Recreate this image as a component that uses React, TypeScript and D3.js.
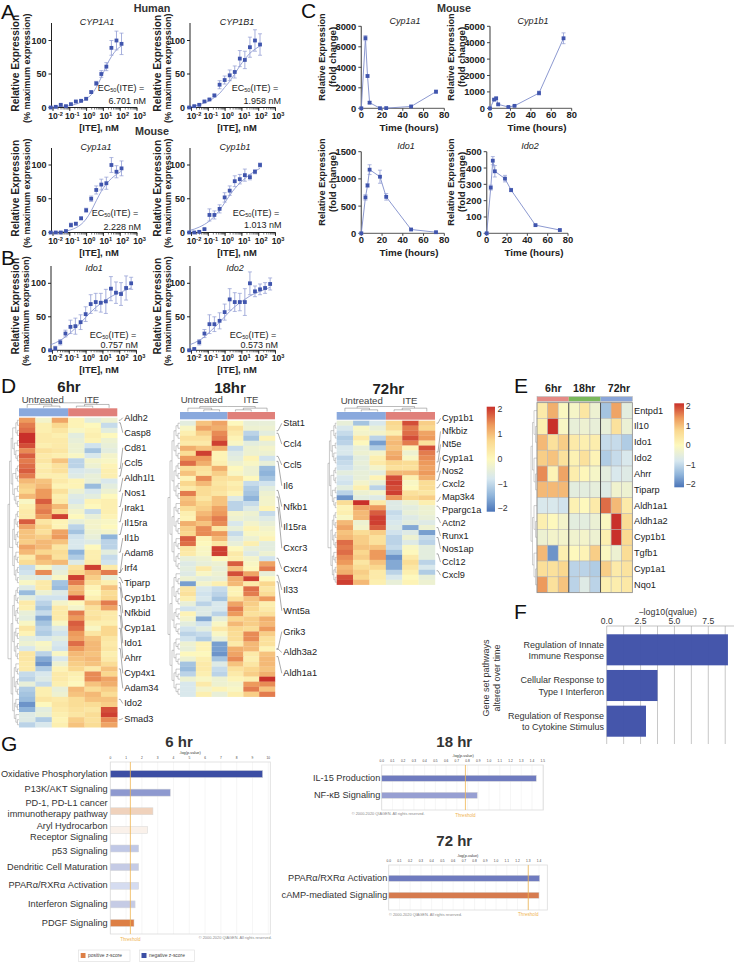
import React from "react";
import * as d3 from "d3";

const FONT = "'Liberation Sans', Arial, sans-serif";

// A, B: dose response
const doses = [0.0073, 0.0146, 0.029, 0.059, 0.117, 0.23, 0.47, 0.94, 1.88, 3.75, 7.5, 15, 30, 60, 120, 240, 480];
const cyp1a1Human = [0, 1, 4, 2, 5, 9, 10, 13, 23, 36, 50, 61, 89, 100, 95];
const cyp1a1HumanErr = [1, 1, 1, 1, 1, 1, 1, 1, 2, 3, 5, 6, 11, 14, 16];
const cyp1a1HumanFit = [0.5, 1, 1.5, 2, 3, 5, 8, 13, 19, 30, 45, 62, 76, 86, 92];
const cyp1b1Human = [0, 2, 4, 9, 12, 18, 34, 41, 48, 53, 73, 71, 90, 100, 94];
const cyp1b1HumanErr = [1, 1, 1, 1, 1, 2, 6, 6, 8, 9, 12, 13, 15, 16, 16];
const cyp1b1HumanFit = [1, 2, 4, 7, 10, 15, 21, 30, 39, 50, 62, 72, 81, 87, 92];
const cyp1a1Mouse = [0, 0, 0, 2, 11, 13, 21, 33, 50, 63, 71, 73, 100, 90, 95];
const cyp1a1MouseErr = [1, 1, 1, 2, 3, 2, 2, 3, 4, 6, 8, 9, 11, 9, 11];
const cyp1a1MouseFit = [0, 0.5, 1, 2, 4, 7, 12, 20, 32, 47, 61, 72, 80, 86, 91];
const cyp1b1Mouse = [0, 0, 1, 5, 26, 26, 35, 52, 62, 76, 79, 85, 82, 90, 100];
const cyp1b1MouseErr = [1, 1, 1, 1, 9, 6, 6, 7, 7, 8, 7, 9, 4, 3, 3];
const cyp1b1MouseFit = [3, 5, 8, 12, 17, 24, 33, 44, 55, 65, 73, 80, 86, 91, 95];
const ido1Dose = [0, 3, 12, 25, 35, 36, 42, 54, 69, 72, 71, 73, 92, 86, 84, 93, 100];
const ido1DoseErr = [1, 3, 4, 5, 10, 12, 11, 11, 14, 13, 14, 18, 18, 16, 17, 18, 9];
const ido1DoseFit = [8, 11, 15, 20, 26, 33, 41, 49, 57, 64, 70, 75, 80, 84, 87, 90, 93];
const ido2Dose = [0, 2, 12, 25, 39, 39, 44, 57, 76, 72, 72, 72, 100, 88, 91, 93, 99];
const ido2DoseErr = [0, 1, 4, 6, 14, 11, 12, 12, 16, 14, 13, 20, 17, 8, 8, 8, 9];
const ido2DoseFit = [8, 11, 15, 20, 27, 34, 42, 50, 58, 65, 71, 76, 81, 85, 88, 91, 94];

// C: time course
const hours = [0, 4, 6, 8, 18, 24, 48, 72];
const cyp1a1Time = [0, 6850, 3150, 550, 10, 20, 180, 1620];
const cyp1a1TimeErr = [0, 250, 100, 100, 0, 0, 50, 150];
const cyp1b1Time = [0, 530, 610, 240, 80, 150, 930, 4270];
const cyp1b1TimeErr = [0, 40, 60, 40, 20, 20, 120, 330];
const ido1Time = [0, 660, 880, 1170, 1040, 670, 70, 20];
const ido1TimeErr = [0, 50, 30, 90, 120, 60, 10, 10];
const ido2Time = [0, 280, 445, 380, 335, 265, 50, 20];
const ido2TimeErr = [0, 15, 25, 35, 20, 10, 5, 5];

// D: heatmaps, columns are 3 untreated then 3 ITE
const heat6 = [
  [1.3, -0.2, 1.2, 0.1, -0.5, -0.3], [1.5, 0.2, 0.7, 0.1, 0, -0.9], [1.6, 0.2, 0.4, -0.1, 0.1, -0.5], [2, 0.3, 0.2, -0.5, 0.2, 0],
  [2, 0.3, 0.3, -0.4, 0.1, -0.3], [1.8, 0.2, 0.3, -0.3, -0.8, -0.4], [1.4, 0.5, 0.4, -0.3, -1.2, -0.5], [1.7, 0.3, 0.2, -0.1, -0.7, -0.2],
  [1.5, 0.4, 0.9, -1, -0.2, -0.1], [1.6, 0.2, 0.5, -1, -0.3, 0.1], [1.7, 0.3, 0.5, -0.7, -0.6, 0.2], [1.5, 0.2, 0.2, -0.6, -0.4, 0.2],
  [1, 0.9, 0.3, 0.1, -0.4, -0.7], [0.8, 1, 0.1, 0.1, -1.3, -0.5], [0.7, 1.3, 0.5, -0.3, -0.7, -0.3], [1, 1.3, 0.2, -0.6, -0.5, 0],
  [-0.1, 1.7, 0.3, -0.7, 0.1, 0.2], [0.2, 1.4, 1, -0.4, 0, 0.2], [0.3, 1.5, 0.7, -0.2, -0.9, 0.2], [0.3, 1.3, 1.9, 0, -0.4, 0.1],
  [1.7, 0.4, 0.1, -0.4, -0.2, -0.1], [1.2, 0.7, 0.1, -1, -0.2, 0], [0.9, 0.5, 1.2, -1.2, -0.3, -0.2], [0.9, 0.8, 1.3, -0.8, -0.4, -1.4],
  [0.8, 1, 0.9, -0.7, -0.6, -1], [1.2, 1, 0.4, -0.7, 0, -1], [1, 0.7, 0.6, -1.4, 0.2, -0.5], [0.3, 1.1, 0.5, -1.1, 0.2, -0.9],
  [0.6, 0.9, 1, -0.6, 0.3, -0.8], [-0.9, -0.1, -0.6, 0.5, 1.9, 0.3], [-0.8, 1.4, -0.4, 0.7, 1, 1.5],
  [-0.5, -0.6, -0.1, 1.9, 0.8, -0.4], [-0.1, 0.3, -1.2, 1.5, 0.5, 0.2], [-0.6, 0.3, -1.3, 1, 0.1, 0.9], [-1.3, -0.3, -0.6, 1.1, 0, 0.6],
  [-0.5, -0.8, -0.8, 1.9, 0.2, 0.7], [0.3, -1, -0.2, 0, 0.9, 1.5], [0.2, -1.2, 0.3, -0.2, 0.5, 1.2], [-0.4, -0.9, 0.3, 1.5, 0.4, 0.3],
  [-0.5, -1.5, 0.3, 1.3, 0.5, 0.3], [-0.1, -1.2, -0.1, 1.7, 0.2, 0.2], [0.4, -1, -0.6, 1.6, -0.1, 0.7], [0.1, -1.1, -0.8, 1.3, 0.4, 0.7],
  [-0.5, -0.7, -0.5, 1.2, 0.9, 0.4], [-0.3, -0.1, -0.7, 1.6, 1, 0.3], [-0.7, -0.2, -0.8, 1.3, 1, 0.4], [0.4, -1, -0.1, 1, 0.9, 0.2],
  [0.4, -1.5, -0.7, 0.9, 1, 0.3], [0.3, -1.7, -0.3, 0.8, 0.9, 0.6], [0.3, -1.1, 0.1, 0.7, 0.3, 0.9], [-0.9, -0.7, 0.3, 0.2, 1.4, 0.7],
  [-1, -0.6, 0.3, 0.1, 1.4, 1.2], [-0.4, -0.9, 0.2, 0, 0.9, 1.1], [-1.1, 0.2, -0.4, 1, 0.6, 0.8], [-1.2, 0.2, -0.3, 0.9, 1, 0.6],
  [-1.3, 0.4, 0.3, 0.6, 0.9, 0.9], [-1.7, 0, 0.4, 0.6, 0.6, 0.8], [-1.4, -0.5, 0.3, 0.5, 0.4, 1.8], [-0.6, -0.4, 0.2, 0.4, 0.6, 1.9],
  [-0.6, -1.1, 0.1, 0.8, 0.5, 1.4], [-1, -0.7, 0.2, 0.9, 0.6, 1.2],
];
const heat18 = [
  [-0.5, 0.9, 1.2, 0, -0.4, -0.4], [-0.1, 1.2, 1.1, 0.5, -0.3, -0.3], [0.2, 0.8, 1.4, 0.3, -1, -0.5], [0.5, 0.5, 1.5, 0.1, -1.2, 0.1],
  [0.3, 0.3, 1.9, -0.1, -0.5, -0.4], [1.1, 0.9, 1.1, -0.9, -0.3, -0.2], [0.6, 1.9, 0.1, -0.6, -0.3, -0.3], [1.3, 1.3, 0.1, -0.5, 0.1, -0.8],
  [1.6, 1.1, 0.2, -0.3, -0.1, -0.4], [0.6, 0.5, 1.1, 0, -0.3, -1.3], [0.9, 0.4, 0.8, -0.1, -0.3, -1.4], [0.1, 1.4, 0.5, 0.5, 0, -1.2],
  [0.7, 1, 0.4, 0.2, -0.9, -0.8], [0.3, 0.6, 0.5, 0.3, -1.1, -0.5], [1.5, 0.6, 0.4, 0.1, -1.2, -0.3], [0.9, 0.4, 0.9, -0.6, -1.4, -0.2],
  [1, 0.7, 0.9, -1, -0.9, -0.2], [0.6, 0.8, 1.2, -1, -0.6, 0.1], [0.2, 1, 1.3, -0.2, -0.3, -0.9], [0.1, 1.2, 1.5, -0.3, -0.4, -0.6],
  [1.1, 0.9, 1.4, -0.7, -0.2, -0.4], [0.8, 1.4, 0.4, -0.4, 0.1, -0.2], [0.7, 1.4, 1.3, -0.9, -0.1, -0.1], [1.7, 0.1, 1, -0.6, -0.3, 0.1],
  [1.6, 0, 0.4, -0.4, 0.2, -0.5], [0.4, -0.1, 1.9, 0, -0.4, -0.5], [0.3, -0.1, 1.9, 0.3, -0.6, -0.3], [-0.4, -0.3, 0, 0.2, -0.2, -0.8],
  [-0.6, -0.4, -0.3, 1.7, -0.1, 1.2], [-0.5, 0.3, -0.4, 0.9, 0, 1.5],
  [-0.6, -0.1, -0.3, 1.8, 1.2, -0.4], [-0.3, -0.5, -0.4, 1.1, 1.9, 0], [-1.6, -0.2, 0.2, 1, 0.3, 0.7], [0.4, -0.7, -0.9, 0.1, 1.6, 0.4],
  [0.5, -0.8, -1, 0.1, 1.5, 0.6], [0.2, -0.7, -1.2, 0.5, 0.9, 1.3], [-0.4, -1, -0.7, 1.2, 0.8, 0.2], [-0.8, -0.6, -0.7, 1.5, 0.7, 0.3],
  [0.1, -0.6, -1, 1.3, 0.5, 0.5], [-0.2, -1.5, -0.4, 0.7, 0.8, 1.1], [-0.5, -0.8, -0.1, 1, 0.8, 1], [-0.8, -0.5, 0.3, 0.7, 0.6, 1.3],
  [-1, -0.9, -0.1, 0.6, 1.4, 0.8], [-0.8, -1.1, -0.4, 0.6, 1.4, 0.5], [-0.3, 0.1, -1.6, 0.3, 1, 0.5], [-0.4, 0.1, -1.6, 1.1, 1, 0.1],
  [0, 0, -1.7, 1.2, 0.3, 0.9], [-0.3, 0.2, -1.2, 1.4, 0.2, 1], [-1.2, 0.3, -0.6, 0.9, 0.4, 1], [-1.3, 0.3, -0.9, 0.5, 0.7, 0.9],
  [-1, 0.2, -1, 0.3, 0.8, 1.1], [-0.3, -0.1, -0.3, 0.1, 0.2, 2], [-0.7, 0.3, -0.3, -0.2, 1.3, 1.4], [-0.7, -0.2, 0.1, -0.1, 1.5, 0.9],
  [-0.7, 0.2, -0.4, 0.2, 0.8, 1.5],
];
const heat72 = [
  [-0.4, -1.2, -0.7, 0.7, 1.8, 0.8], [-0.7, -0.1, -0.4, 0.6, 1.5, 0.7], [-0.9, -0.2, -0.2, 0.2, 1.6, 1.2], [-1.1, 0.3, -1, 0.9, 1.8, 1.3],
  [-1, 0, -1.6, 1, 1.5, 0.5], [-0.7, -0.4, -1.1, 0.9, 0.1, 1.8], [-0.7, -0.3, -0.2, 1.1, -0.3, 1.5], [-1, -0.5, 0.2, 1.2, -0.1, 1.4],
  [-0.9, -0.4, 0.3, 0.7, 0.6, 1.3], [-0.8, -0.5, -0.2, 0.5, 0.5, 1.2], [-0.5, -0.4, -0.5, 1, 1, 1.3], [-0.7, -0.4, 0.1, 1.8, 0.2, 1.1],
  [-0.8, -0.2, -0.4, 1.9, -0.1, 0.6], [-0.5, 0.2, -1, 1.8, 0, 0.6], [-1, -0.3, -0.2, 1.9, 0.5, 0.4], [-1.7, -0.5, -0.6, 1.3, 0.7, 0.8],
  [0.6, 2, 0.3, -0.6, -0.3, 0.2], [0.1, 1.2, 1.3, -0.6, -0.5, -0.3], [0.2, 1, 1.7, -0.9, -0.4, -0.3], [-0.1, 1, 1.9, -0.8, -0.6, -0.4],
  [1, -0.3, 1.9, -0.7, -0.5, -0.6], [1.2, -0.2, 1.7, -0.6, -1.5, -0.3], [0.9, 0.6, 0.8, -0.8, -0.6, -1.6], [1, 0.8, 0.5, -1, -0.3, -0.9],
  [1.6, 0.8, 0.5, -1, -0.6, -1], [1.5, 0.9, 0.9, -0.9, -0.1, -0.5], [1.6, 0.7, 1.3, -1.2, 0, -0.5], [1.4, 0.8, 1.3, -1.7, 0.3, -0.5],
  [1.3, 0.4, 0.9, -1.5, 0.6, -1], [1, 0.6, 0.7, -1.5, 0.4, -0.7], [1.1, 0.8, 0.3, -1, 0.2, -1.1], [1.8, 0.7, 0.3, -0.7, 0, -0.4],
  [1.9, 1, 0.2, -0.4, 0.1, -0.3],
];
const genes6 = ["Aldh2", "Casp8", "Cd81", "Ccl5", "Aldh1l1", "Nos1", "Irak1", "Il15ra", "Il1b", "Adam8", "Irf4", "Tiparp", "Cyp1b1", "Nfkbid", "Cyp1a1", "Ido1", "Ahrr", "Cyp4x1", "Adam34", "Ido2", "Smad3"];
const geneRows6 = [0, 0.5, 9.5, 11, 14, 17, 20, 22.5, 26, 30, 30, 31, 32, 33, 36.5, 38.5, 41, 45, 49, 55, 59];
const genes18 = ["Stat1", "Ccl4", "Ccl5", "Il6", "Nfkb1", "Il15ra", "Cxcr3", "Cxcr4", "Il33", "Wnt5a", "Grik3", "Aldh3a2", "Aldh1a1"];
const geneRows18 = [1.5, 2, 6.6, 7.6, 13.4, 14.7, 16.8, 26.9, 30.3, 31.6, 45, 45, 46.5];
const genes72 = ["Cyp1b1", "Nfkbiz", "Nt5e", "Cyp1a1", "Nos2", "Cxcl2", "Map3k4", "Ppargc1a", "Actn2", "Runx1", "Nos1ap", "Ccl12", "Cxcl9"];
const geneRows72 = [0, 5.8, 7.8, 9.8, 11.5, 13, 15.7, 16.7, 19, 21, 23, 26.3, 29.7];

// E
const genesE = ["Entpd1", "Il10", "Ido1", "Ido2", "Ahrr", "Tiparp", "Aldh1a1", "Aldh1a2", "Cyp1b1", "Tgfb1", "Cyp1a1", "Nqo1"];
const heatE = [
  [0.3, 1.1, -0.05, -0.15, 0.4, -0.3, -1.2, 1.2, -0.5],
  [0.2, 2, -0.1, -0.4, -0.3, -0.4, -0.4, 0.5, -0.35],
  [1, 0.5, 0.8, 0.3, 0.2, 0.25, -0.9, -0.9, -1.1],
  [0.8, 0.9, 0.5, 0.15, 0.5, 0.1, -1.1, -0.9, -0.7],
  [1.4, 0.1, 1.2, 0.25, 0.05, -0.15, -0.5, -0.7, -0.6],
  [1, 1, 1, -0.5, -0.5, -0.45, -0.6, -0.25, -0.3],
  [-0.7, -0.7, -0.8, 0.15, 0, 0.3, 1.6, 1, 0.3],
  [0.2, 0, -0.2, -0.5, -0.5, -0.35, -0.05, 2, 0.6],
  [-0.3, -0.2, -0.2, -0.25, -0.2, -0.3, 0.2, 2, 0.65],
  [1, -1.7, 0.2, 0, 0.1, 0.8, -0.05, -0.3, 0.6],
  [0.55, 0.5, 0.7, -1, -1, -1.1, 0.8, 0.3, 0.45],
  [1.3, 0.5, 0.9, -1, -0.6, -1, 0.2, 0.25, 0.35],
];

// F
const pathwaysF = [["Regulation of Innate", "Immune Response"], ["Cellular Response to", "Type I Interferon"], ["Regulation of Response", "to Cytokine Stimulus"]];
const qvalues = [8.95, 3.75, 2.9];

// G
const names6 = [["Oxidative Phosphorylation"], ["P13K/AKT Signaling"], ["PD-1, PD-L1 cancer", "immunotherapy pathway"], ["Aryl Hydrocarbon", "Receptor Signaling"], ["p53 Signaling"], ["Dendritic Cell Maturation"], ["PPARα/RXRα Activation"], ["Interferon Signaling"], ["PDGF Signaling"]];
const values6 = [9.64, 3.8, 2.7, 2.37, 1.8, 1.8, 1.8, 1.57, 1.5];
const fills6 = ["#3c4ea4", "#8e99cf", "#f0d2bc", "#faf1ea", "#c0c8e6", "#c5cbe5", "#d5dcf0", "#c5cbe5", "#dd7f45"];
const nudges6 = [-0.5, -3.7, -2.6, 2, 2, 0, -0.5, -0.5, -0.5];
const names18 = [["IL-15 Production"], ["NF-κB Signaling"]];
const values18 = [1.44, 0.89];
const fills18 = ["#6f7bbf", "#979fd2"];
const names72 = [["PPARα/RXRα Activation"], ["cAMP-mediated Signaling"]];
const values72 = [1.406, 1.4];
const fills72 = ["#6f7bbf", "#d67b4f"];

const colorDomain = [-2, -1.4, -0.75, 0, 0.7, 1.3, 2];
const colorRange = ["#4a74b8", "#8fb4da", "#d6e7ef", "#fdf8bd", "#fad88f", "#ed9a5c", "#c9302a"];
const heatColor = d3.scaleLinear<string>().domain(colorDomain).range(colorRange).clamp(true);

const MARK = "#4055ad";
const LINE = "#7f8dcb";
const ERR = "#8f9bd3";

type DoseProps = {
  x0: number; base: number; y100: number; top: number; title: string; titleX: number; titleY: number;
  values: number[]; err: number[]; fit: number[]; ec: string; ecX: number; ecY: number; nmRight: number; nmY: number; xLabelX: number; labelDx?: number;
};

const DoseChart = ({ x0, base, y100, top, title, titleX, titleY, values, err, fit, ec, ecX, ecY, nmRight, nmY, xLabelX, labelDx = 0 }: DoseProps) => {
  const x = d3.scaleLog().domain([0.01, 1000]).range([x0 + 1.5, x0 + 85.5]);
  const y = d3.scaleLinear().domain([0, 100]).range([base, y100]);
  const xd = doses.slice(0, values.length);
  const line = d3.line<number>().x((_, i) => x(xd[i])).y((d) => y(d)).curve(d3.curveMonotoneX);
  const mid = (top + base) / 2 - 2;
  return (
    <g fontFamily={FONT}>
      <text transform={`translate(${x0 - 36 + labelDx},${mid}) rotate(-90)`} textAnchor="middle" fontSize={10.2} fontWeight="bold" fill="#222" dominantBaseline="central">Relative Expression</text>
      <text transform={`translate(${x0 - 25 + labelDx},${mid + 5}) rotate(-90)`} textAnchor="middle" fontSize={9.1} fontWeight="bold" fill="#222" dominantBaseline="central">(% maximum expression)</text>
      <line x1={x0} x2={x0} y1={top} y2={base + 0.5} stroke="#222" strokeWidth={1} />
      <line x1={x0} x2={x(1000)} y1={base} y2={base} stroke="#222" strokeWidth={1} />
      {[0, 50, 100].map((t) => (
        <g key={t}>
          <line x1={x0 - 3} x2={x0} y1={y(t)} y2={y(t)} stroke="#222" />
          <text x={x0 - 5} y={y(t)} textAnchor="end" dominantBaseline="central" fontSize={9} fontWeight="bold" fill="#222">{t}</text>
        </g>
      ))}
      {x.ticks().map((t) => (
        <line key={t} x1={x(t)} x2={x(t)} y1={base} y2={base + 2} stroke="#222" strokeWidth={0.6} />
      ))}
      {[-2, -1, 0, 1, 2, 3].map((p) => (
        <g key={p}>
          <line x1={x(10 ** p)} x2={x(10 ** p)} y1={base} y2={base + 3.5} stroke="#222" strokeWidth={0.9} />
          <text x={x(10 ** p) + 2.5} y={base + 11} textAnchor="middle" fontSize={8.6} fontWeight="bold" fill="#222">
            10<tspan dy={-3} fontSize={5.6}>{p}</tspan>
          </text>
        </g>
      ))}
      <text x={xLabelX} y={base + 23} textAnchor="middle" fontSize={9.4} fontWeight="bold" fill="#222">[ITE], nM</text>
      <text x={titleX} y={titleY} textAnchor="middle" dominantBaseline="central" fontSize={9} fontStyle="italic" fill="#222">{title}</text>
      <path d={line(fit) ?? ""} fill="none" stroke={LINE} strokeWidth={0.8} />
      {values.map((v, i) => (
        <g key={i}>
          <line x1={x(xd[i])} x2={x(xd[i])} y1={y(v - err[i])} y2={y(v + err[i])} stroke={ERR} strokeWidth={0.8} />
          <line x1={x(xd[i]) - 2} x2={x(xd[i]) + 2} y1={y(v + err[i])} y2={y(v + err[i])} stroke={ERR} strokeWidth={0.7} />
          <line x1={x(xd[i]) - 2} x2={x(xd[i]) + 2} y1={y(v - err[i])} y2={y(v - err[i])} stroke={ERR} strokeWidth={0.7} />
          <rect x={x(xd[i]) - 1.9} y={y(v) - 1.9} width={3.8} height={3.8} fill={MARK} />
        </g>
      ))}
      <text x={ecX} y={ecY} textAnchor="middle" dominantBaseline="central" fontSize={9} fill="#222">
        EC<tspan dy={2} fontSize={5.5}>50</tspan><tspan dy={-2}>(ITE) =</tspan>
      </text>
      <text x={nmRight} y={nmY} textAnchor="end" dominantBaseline="central" fontSize={9} fill="#222">{ec}</text>
    </g>
  );
};

type TimeProps = {
  x0: number; x80: number; base: number; yTop: number; max: number; step: number; title: string; titleX: number; titleY: number;
  values: number[]; err: number[]; labelX: number; labelY: number; xLabelX: number;
};

const TimeChart = ({ x0, x80, base, yTop, max, step, title, titleX, titleY, values, err, labelX, labelY, xLabelX }: TimeProps) => {
  const x = d3.scaleLinear().domain([0, 80]).range([x0, x80]);
  const y = d3.scaleLinear().domain([0, max]).range([base, yTop]);
  const line = d3.line<number>().x((_, i) => x(hours[i])).y((d) => y(d));
  return (
    <g fontFamily={FONT}>
      <text transform={`translate(${labelX},${labelY}) rotate(-90)`} textAnchor="middle" dominantBaseline="central" fontSize={9.2} fontWeight="bold" fill="#222">Relative Expression</text>
      <text transform={`translate(${labelX + 10.3},${labelY}) rotate(-90)`} textAnchor="middle" dominantBaseline="central" fontSize={9.6} fontWeight="bold" fill="#222">(fold change)</text>
      <line x1={x0} x2={x0} y1={yTop} y2={base} stroke="#666" strokeWidth={1.3} />
      <line x1={x0} x2={x80} y1={base} y2={base} stroke="#444" strokeWidth={0.9} />
      {d3.range(0, max + 1, step).map((t) => (
        <g key={t}>
          <line x1={x0 - 3} x2={x0} y1={y(t)} y2={y(t)} stroke="#444" />
          <text x={x0 - 5} y={y(t)} textAnchor="end" dominantBaseline="central" fontSize={9.4} fontWeight="bold" fill="#222">{t}</text>
        </g>
      ))}
      {x.ticks(4).map((t) => (
        <g key={t}>
          <line x1={x(t)} x2={x(t)} y1={base} y2={base + 2.5} stroke="#444" />
          <text x={x(t)} y={base + 10} textAnchor="middle" fontSize={9.4} fontWeight="bold" fill="#222">{t}</text>
        </g>
      ))}
      <text x={xLabelX} y={base + 19.5} dominantBaseline="central" textAnchor="middle" fontSize={9.8} fontWeight="bold" fill="#222">Time (hours)</text>
      <text x={titleX} y={titleY} textAnchor="middle" dominantBaseline="central" fontSize={9} fontStyle="italic" fill="#222">{title}</text>
      <path d={line(values) ?? ""} fill="none" stroke={LINE} strokeWidth={0.9} />
      {values.map((v, i) => (
        <g key={i}>
          <line x1={x(hours[i])} x2={x(hours[i])} y1={y(v - err[i])} y2={y(v + err[i])} stroke={ERR} strokeWidth={0.8} />
          <line x1={x(hours[i]) - 2} x2={x(hours[i]) + 2} y1={y(v + err[i])} y2={y(v + err[i])} stroke={ERR} strokeWidth={0.7} />
          <line x1={x(hours[i]) - 2} x2={x(hours[i]) + 2} y1={y(v - err[i])} y2={y(v - err[i])} stroke={ERR} strokeWidth={0.7} />
          <rect x={x(hours[i]) - 1.9} y={y(v) - 1.9} width={3.8} height={3.8} fill={MARK} />
        </g>
      ))}
    </g>
  );
};

type Tree = { children?: Tree[] };
// halves the rows into nested groups so d3.cluster can lay out the row dendrogram
const splitRows = (n: number): Tree => (n <= 1 ? {} : { children: [splitRows(Math.floor(n * 0.55)), splitRows(n - Math.floor(n * 0.55))] });
const topTree: Tree = {
  children: [
    { children: [{}, { children: [{}, {}] }] },
    { children: [{ children: [{}, {}] }, {}] },
  ],
};

const Dendrogram = ({ tree, length, span, flip, tx, ty, stroke }: { tree: Tree; length: number; span: number; flip?: boolean; tx: number; ty: number; stroke: string }) => {
  const root = d3.cluster<Tree>().size([span, length]).separation(() => 1)(d3.hierarchy(tree));
  const d = root.links().map(({ source, target }) =>
    flip
      ? `M${source.x},${source.y}H${target.x}V${target.y}`
      : `M${source.y},${source.x}V${target.x}H${target.y}`
  ).join("");
  return <path transform={`translate(${tx},${ty})`} d={d} fill="none" stroke={stroke} strokeWidth={0.45} />;
};

type HeatProps = {
  rows: number[][]; left: number; right: number; barTop: number; barBottom: number; top: number; bottom: number; title: string; titleX: number; titleY: number;
  untreatedX: number; iteX: number; groupY: number; genes: string[]; geneRows: number[]; labelX: number; labelTop: number; labelStep: number; dendroLeft: number;
};

const RowHeatmap = ({ rows, left, right, barTop, barBottom, top, bottom, title, titleX, titleY, untreatedX, iteX, groupY, genes, geneRows, labelX, labelTop, labelStep, dendroLeft }: HeatProps) => {
  const x = d3.scaleBand<number>().domain(d3.range(6)).range([left, right]);
  const y = d3.scaleBand<number>().domain(d3.range(rows.length)).range([top, bottom]);
  const mid = x(3) as number;
  return (
    <g fontFamily={FONT}>
      <text x={titleX} y={titleY} textAnchor="middle" dominantBaseline="central" fontSize={15} fontWeight="bold" fill="#222">{title}</text>
      <text x={untreatedX} y={groupY} textAnchor="middle" dominantBaseline="central" fontSize={9.6} fill="#444">Untreated</text>
      <text x={iteX} y={groupY} textAnchor="middle" dominantBaseline="central" fontSize={9.6} fill="#444">ITE</text>
      <Dendrogram tree={topTree} length={5} span={right - left} flip tx={left} ty={barTop - 5.5} stroke="#666" />
      <rect x={left} y={barTop} width={mid - left} height={barBottom - barTop} fill="#8aa9dd" />
      <rect x={mid} y={barTop} width={right - mid} height={barBottom - barTop} fill="#e0807a" />
      <Dendrogram tree={splitRows(rows.length)} length={left - dendroLeft} span={bottom - top} tx={dendroLeft} ty={top} stroke="#8a8a8a" />
      {rows.map((row, r) => row.map((v, c) => (
        <rect key={`${r}-${c}`} x={x(c)} y={y(r)} width={x.bandwidth() + 0.2} height={y.bandwidth() + 0.2} fill={heatColor(v)} />
      )))}
      {genes.map((g, i) => {
        const ly = labelTop + i * labelStep;
        const ty = (y(0) as number) + (geneRows[i] + 0.5) * y.step();
        return (
          <g key={g}>
            <path d={`M${right + 1.5},${ty}L${right + 3},${ty}L${labelX - 1.5},${ly}`} fill="none" stroke="#555" strokeWidth={0.5} />
            <text x={labelX} y={ly} dominantBaseline="central" fontSize={9.2} fill="#222">{g}</text>
          </g>
        );
      })}
    </g>
  );
};

const ColorBar = ({ id, x, width, y2, ym2, top, bottom, labelX }: { id: string; x: number; width: number; y2: number; ym2: number; top: number; bottom: number; labelX: number }) => {
  const y = d3.scaleLinear().domain([-2, 2]).range([ym2, y2]);
  return (
    <g fontFamily={FONT}>
      <defs>
        <linearGradient id={id} x1="0" x2="0" y1="1" y2="0">
          {colorDomain.map((d, i) => (
            <stop key={d} offset={`${(d + 2) * 25}%`} stopColor={colorRange[i]} />
          ))}
        </linearGradient>
      </defs>
      <rect x={x} y={top} width={width} height={bottom - top} fill={`url(#${id})`} />
      {[-2, -1, 0, 1, 2].map((t) => (
        <text key={t} x={labelX} y={y(t)} dominantBaseline="central" fontSize={8.8} fill="#333">{t < 0 ? `−${-t}` : t}</text>
      ))}
    </g>
  );
};

const HeatmapE = () => {
  const x = d3.scaleBand<number>().domain(d3.range(9)).range([537, 632.3]);
  const y = d3.scaleBand<number>().domain(d3.range(genesE.length)).range([402.7, 592.7]);
  const groupFill = ["#e58a85", "#7ab85c", "#8aa5d8"];
  const groupTitle = ["6hr", "18hr", "72hr"];
  const groupX = [553.3, 584.3, 619];
  return (
    <g fontFamily={FONT}>
      {groupTitle.map((t, i) => (
        <g key={t}>
          <text x={groupX[i]} y={388} textAnchor="middle" dominantBaseline="central" fontSize={10.6} fontWeight="bold" fill="#222">{t}</text>
          <rect x={x(i * 3)} y={396.7} width={x.bandwidth() * 3} height={4.6} fill={groupFill[i]} />
        </g>
      ))}
      <rect x={537} y={396.7} width={95.3} height={4.6} fill="none" stroke="#aaa" strokeWidth={0.5} />
      <Dendrogram tree={splitRows(genesE.length)} length={6} span={190} tx={531} ty={402.7} stroke="#999" />
      {heatE.map((row, r) => row.map((v, c) => (
        <rect key={`${r}-${c}`} x={x(c)} y={y(r)} width={x.bandwidth()} height={y.bandwidth()} fill={heatColor(v)} stroke="#b5b5b5" strokeWidth={0.5} />
      )))}
      {[3, 6].map((c) => (
        <line key={c} x1={x(c)} x2={x(c)} y1={402.7} y2={592.7} stroke="#444" strokeWidth={0.9} />
      ))}
      <rect x={537} y={402.7} width={95.3} height={190} fill="none" stroke="#888" strokeWidth={0.7} />
      {genesE.map((g, i) => (
        <text key={g} x={634} y={(y(i) as number) + y.bandwidth() / 2} dominantBaseline="central" fontSize={9.2} fill="#222">{g}</text>
      ))}
    </g>
  );
};

const BarsF = () => {
  const x = d3.scaleLinear().domain([0, 7.5]).range([606.7, 708.3]);
  const y = d3.scaleBand<number>().domain(d3.range(qvalues.length)).range([630, 741]).paddingInner(0.13).paddingOuter(0.12);
  const grid = d3.range(0, 9.5, 1.25);
  return (
    <g fontFamily={FONT}>
      <text x={667.7} y={611.7} textAnchor="middle" dominantBaseline="central" fontSize={8.8} fill="#333">−log10(qvalue)</text>
      {[0, 2.5, 5, 7.5].map((t) => (
        <text key={t} x={x(t)} y={621} textAnchor="middle" dominantBaseline="central" fontSize={8.6} fill="#333">{t.toFixed(1)}</text>
      ))}
      <line x1={606.7} x2={734} y1={626} y2={626} stroke="#aaa" strokeWidth={0.7} />
      {grid.map((t) => (
        <line key={t} x1={x(t)} x2={x(t)} y1={626} y2={744} stroke="#b0b0b0" strokeWidth={0.7} />
      ))}
      {qvalues.map((v, i) => (
        <rect key={i} x={x(0)} y={y(i)} width={x(v) - x(0)} height={y.bandwidth()} fill="#3f51a8" opacity={0.97} />
      ))}
      {pathwaysF.map((lines, i) => lines.map((l, j) => (
        <text key={l} x={604} y={(y(i) as number) + y.bandwidth() / 2 + (j - 0.5) * 11.3 + 0.5} textAnchor="end" dominantBaseline="central" fontSize={9} fill="#333">{l}</text>
      )))}
      <text transform="translate(486,678) rotate(-90)" textAnchor="middle" dominantBaseline="central" fontSize={9} fill="#333">Gene set pathways</text>
      <text transform="translate(496.5,678) rotate(-90)" textAnchor="middle" dominantBaseline="central" fontSize={9} fill="#333">altered over time</text>
    </g>
  );
};

type IpaProps = {
  names: string[][]; values: number[]; fills: string[]; nudges?: number[]; left: number; x1: number; right: number; top: number; bottom: number; max: number; step: number;
  y0: number; y1: number; barH: number; threshold: number; axisTitleX: number; labelRight: number; labelSize: number;
  copyX: number; copyY: number; copyAnchor: "start" | "end"; thresholdY: number; fixed: number;
};

const IpaChart = ({ names, values, fills, nudges, left, x1, right, top, bottom, max, step, y0, y1, barH, threshold, axisTitleX, labelRight, labelSize, copyX, copyY, copyAnchor, thresholdY, fixed }: IpaProps) => {
  const x = d3.scaleLinear().domain([0, max]).range([left, x1]);
  const y = d3.scalePoint<number>().domain(d3.range(values.length)).range([y0, y1]);
  const ticks = d3.range(0, max + step / 2, step);
  return (
    <g fontFamily={FONT}>
      <text x={axisTitleX} y={top - 9.5} textAnchor="middle" dominantBaseline="central" fontSize={3.8} fill="#333">-log(p-value)</text>
      {ticks.map((t) => (
        <g key={t}>
          <text x={x(t)} y={top - 4.2} textAnchor="middle" dominantBaseline="central" fontSize={3.2} fill="#444">{t.toFixed(fixed)}</text>
          <line x1={x(t)} x2={x(t)} y1={top} y2={bottom} stroke="#ececec" strokeWidth={0.5} />
        </g>
      ))}
      <rect x={left} y={top} width={right - left} height={bottom - top} fill="none" stroke="#dcdcdc" strokeWidth={0.8} />
      {values.map((v, i) => (
        <rect key={i} x={left} y={(y(i) as number) - barH / 2} width={x(v) - left} height={barH} fill={fills[i]} stroke="#d8d8d8" strokeWidth={0.5} />
      ))}
      <line x1={x(threshold)} x2={x(threshold)} y1={top} y2={bottom} stroke="#f0b552" strokeWidth={0.8} />
      <text x={x(threshold)} y={thresholdY} textAnchor="middle" dominantBaseline="central" fontSize={4.6} fill="#f0b552">Threshold</text>
      <text x={copyX} y={copyY} textAnchor={copyAnchor} dominantBaseline="central" fontSize={3.9} fill="#888">© 2000-2020 QIAGEN. All rights reserved.</text>
      {names.map((lines, i) => lines.map((l, j) => (
        <text key={l} x={labelRight} y={(y(i) as number) + (nudges ? nudges[i] : -0.8) + (j - (lines.length - 1) / 2) * 11.2} textAnchor="end" dominantBaseline="central" fontSize={labelSize} fill="#333">{l}</text>
      )))}
    </g>
  );
};

const Letter = ({ t, x, y }: { t: string; x: number; y: number }) => (
  <text x={x} y={y} fontFamily={FONT} fontSize={21} fill="#111">{t}</text>
);

const Section = ({ t, x, y, size = 10.8 }: { t: string; x: number; y: number; size?: number }) => (
  <text x={x} y={y} fontFamily={FONT} fontSize={size} fontWeight="bold" fill="#333" textAnchor="middle" dominantBaseline="central">{t}</text>
);

export default function App() {
  return (
    <svg width={734} height={962} style={{ position: "absolute", left: 0, top: 0, background: "#fff" }}>
      <Letter t="A" x={1} y={19} />
      <Letter t="B" x={1} y={265} />
      <Letter t="C" x={301} y={18} />
      <Letter t="D" x={1} y={393} />
      <Letter t="E" x={514} y={393} />
      <Letter t="F" x={514} y={619} />
      <Letter t="G" x={1} y={751} />
      <Section t="Human" x={152} y={8} />
      <Section t="Mouse" x={152} y={131} />
      <Section t="Mouse" x={454} y={8} />

      <DoseChart x0={51.5} base={107.5} y100={40.5} top={23} title="CYP1A1" titleX={97} titleY={22} values={cyp1a1Human} err={cyp1a1HumanErr} fit={cyp1a1HumanFit} ec="6.701 nM" ecX={121} ecY={88} nmRight={146} nmY={101} xLabelX={99} />
      <DoseChart x0={190} base={107.5} y100={40.5} top={23} title="CYP1B1" titleX={237} titleY={22} values={cyp1b1Human} err={cyp1b1HumanErr} fit={cyp1b1HumanFit} ec="1.958 nM" ecX={255} ecY={88} nmRight={281} nmY={101} xLabelX={237} labelDx={3} />
      <DoseChart x0={51.5} base={232.5} y100={165} top={148} title="Cyp1a1" titleX={96} titleY={147} values={cyp1a1Mouse} err={cyp1a1MouseErr} fit={cyp1a1MouseFit} ec="2.228 nM" ecX={115} ecY={213} nmRight={141} nmY={226.5} xLabelX={99} />
      <DoseChart x0={190} base={232.5} y100={165} top={148} title="Cyp1b1" titleX={235} titleY={147} values={cyp1b1Mouse} err={cyp1b1MouseErr} fit={cyp1b1MouseFit} ec="1.013 nM" ecX={256} ecY={213} nmRight={281.5} nmY={225} xLabelX={237} labelDx={3} />
      <DoseChart x0={51} base={350.3} y100={283.3} top={266} title="Ido1" titleX={94} titleY={268} values={ido1Dose} err={ido1DoseErr} fit={ido1DoseFit} ec="0.757 nM" ecX={113} ecY={335} nmRight={138} nmY={345} xLabelX={99} />
      <DoseChart x0={190} base={350.3} y100={283.3} top={266} title="Ido2" titleX={235} titleY={268} values={ido2Dose} err={ido2DoseErr} fit={ido2DoseFit} ec="0.573 nM" ecX={253} ecY={335} nmRight={278} nmY={345} xLabelX={237} labelDx={3} />

      <TimeChart x0={361.3} x80={444.3} base={108.3} yTop={26.3} max={8000} step={2000} title="Cyp1a1" titleX={405} titleY={20.7} values={cyp1a1Time} err={cyp1a1TimeErr} labelX={321.7} labelY={57} xLabelX={409} />
      <TimeChart x0={490} x80={571.7} base={108.3} yTop={26.3} max={5000} step={1000} title="Cyp1b1" titleX={533} titleY={20.7} values={cyp1b1Time} err={cyp1b1TimeErr} labelX={450.7} labelY={57} xLabelX={537} />
      <TimeChart x0={361.3} x80={444.3} base={233.3} yTop={151.7} max={1500} step={500} title="Ido1" titleX={406} titleY={146} values={ido1Time} err={ido1TimeErr} labelX={321.7} labelY={182} xLabelX={409} />
      <TimeChart x0={486.7} x80={568} base={233.3} yTop={151.7} max={500} step={100} title="Ido2" titleX={530} titleY={146} values={ido2Time} err={ido2TimeErr} labelX={450.7} labelY={182} xLabelX={534} />

      <RowHeatmap rows={heat6} left={19} right={117.3} barTop={408.3} barBottom={416.3} top={417.7} bottom={727.3} title="6hr" titleX={69} titleY={386.7} untreatedX={42.7} iteX={91.7} groupY={399} genes={genes6} geneRows={geneRows6} labelX={124.3} labelTop={417.7} labelStep={15.04} dendroLeft={8} />
      <RowHeatmap rows={heat18} left={180} right={275} barTop={412} barBottom={419.3} top={420.7} bottom={696.7} title="18hr" titleX={230} titleY={387} untreatedX={201.7} iteX={251} groupY={399.3} genes={genes18} geneRows={geneRows18} labelX={283.3} labelTop={423.3} labelStep={20.83} dendroLeft={168} />
      <RowHeatmap rows={heat72} left={336.7} right={435} barTop={412} barBottom={419.7} top={420.7} bottom={584.7} title="72hr" titleX={388.3} titleY={388} untreatedX={361.7} iteX={410} groupY={400} genes={genes72} geneRows={geneRows72} labelX={442} labelTop={418.3} labelStep={13.08} dendroLeft={328} />
      <ColorBar id="barD" x={486.7} width={8.3} y2={409.3} ym2={508.3} top={406.7} bottom={511.7} labelX={497.5} />

      <HeatmapE />
      <ColorBar id="barE" x={674.3} width={9.7} y2={406.3} ym2={484.3} top={403.3} bottom={487.3} labelX={685.7} />
      <BarsF />

      <Section t="6 hr" x={179} y={741.7} size={15} />
      <Section t="18 hr" x={454.3} y={741.7} size={15} />
      <Section t="72 hr" x={454.3} y={840.7} size={15} />
      <IpaChart names={names6} values={values6} fills={fills6} nudges={nudges6} left={110.3} x1={268.3} right={270.3} top={762} bottom={934} max={10} step={1} y0={774} y1={923} barH={7} threshold={1.27} axisTitleX={190} labelRight={107.7} labelSize={9.2} copyX={271.7} copyY={937} copyAnchor="end" thresholdY={939.3} fixed={0} />
      <IpaChart names={names18} values={values18} fills={fills18} left={381.7} x1={542.7} right={543.3} top={765} bottom={810} max={1.5} step={0.1} y0={778.3} y1={795.3} barH={6} threshold={0.78} axisTitleX={463} labelRight={380.3} labelSize={9.2} copyX={351.7} copyY={813.3} copyAnchor="start" thresholdY={815} fixed={1} />
      <IpaChart names={names72} values={values72} fills={fills72} left={388.7} x1={539} right={547.3} top={865} bottom={910} max={1.4} step={0.1} y0={878.3} y1={895.3} barH={6} threshold={1.3} axisTitleX={467.7} labelRight={387.3} labelSize={9.2} copyX={389} copyY={914} copyAnchor="start" thresholdY={914.3} fixed={1} />

      <g fontFamily={FONT}>
        <rect x={78.3} y={950} width={51.7} height={11.5} fill="none" stroke="#ddd" strokeWidth={0.6} />
        <rect x={80.7} y={953} width={4.8} height={5} fill="#dd7f45" />
        <text x={88} y={955.7} dominantBaseline="central" fontSize={4.9} fill="#444">positive z-score</text>
        <rect x={139.3} y={950} width={55} height={11.5} fill="none" stroke="#ddd" strokeWidth={0.6} />
        <rect x={141.5} y={953} width={5} height={5} fill="#3c4ea4" />
        <text x={149} y={955.7} dominantBaseline="central" fontSize={4.9} fill="#444">negative z-score</text>
      </g>
    </svg>
  );
}
